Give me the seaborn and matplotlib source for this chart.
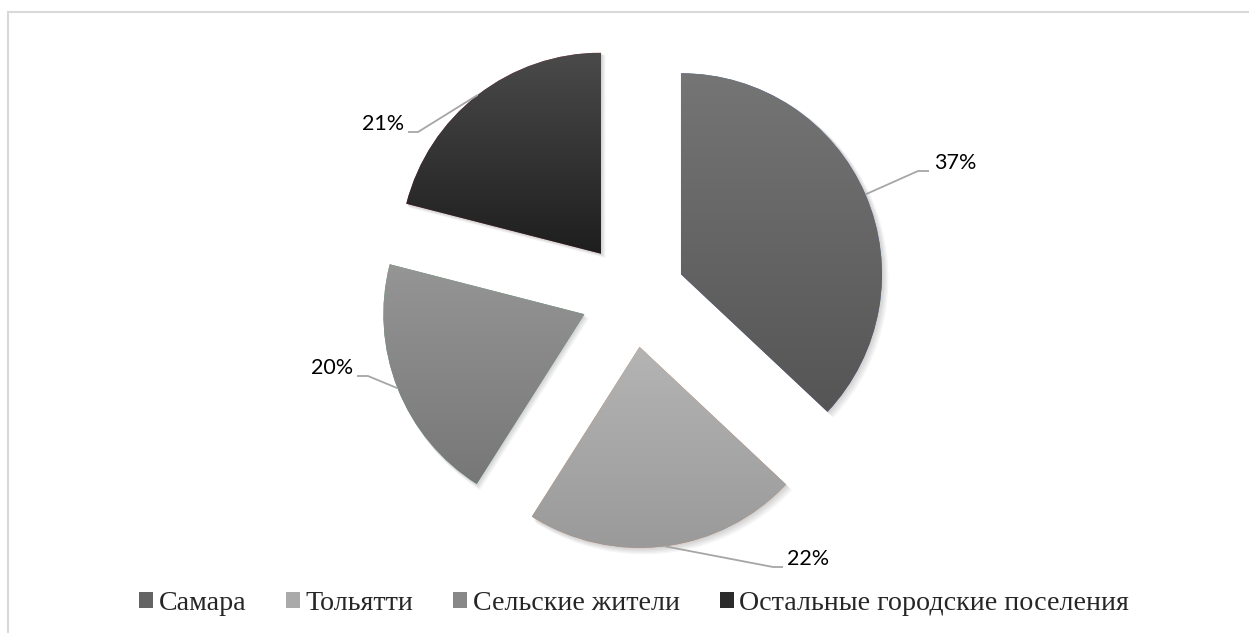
import numpy as np
import matplotlib
matplotlib.use("Agg")
import matplotlib.pyplot as plt
import seaborn as sns
from matplotlib.patches import Patch, Wedge, Rectangle
from matplotlib.colors import LinearSegmentedColormap

# ---- data ----
categories = ["Самара", "Тольятти", "Сельские жители", "Остальные городские поселения"]
shares = [37, 22, 20, 21]
pct_labels = ["37%", "22%", "20%", "21%"]
top_colors = ["#757575", "#b4b4b4", "#959595", "#4a4a4a"]
bottom_colors = ["#555555", "#9a9a9a", "#777777", "#1e1e1e"]
legend_colors = ["#646464", "#aaaaaa", "#888888", "#2c2c2c"]

sns.set_theme(style="white")
plt.rcParams['font.family'] = ['Liberation Serif', 'DejaVu Serif']

W, H = 1249, 633
fig = plt.figure(figsize=(W / 100, H / 100), dpi=100)
fig.patch.set_facecolor("white")
ax = fig.add_axes([0, 0, 1, 1])
CX, CY, R = 633, 295, 201


def px(x, y):
    return ((x - CX) / R, (CY - y) / R)


wedges, _ = ax.pie(shares, startangle=90, counterclock=False,
                   explode=[0.26] * len(shares), radius=1,
                   wedgeprops=dict(linewidth=0))

# soft shadows + vertical gradients
for i, w in enumerate(wedges):
    cx, cy = w.center
    for k in range(1, 6):
        off = k * 0.9 / R
        sh = Wedge((cx + off, cy - off), w.r * (1 + 0.002 * k), w.theta1, w.theta2,
                   facecolor="black", alpha=0.035, linewidth=0, zorder=0.5)
        ax.add_patch(sh)
    w.set_zorder(1)
    ext = w.get_path().get_extents()
    cmap = LinearSegmentedColormap.from_list(f"g{i}", [bottom_colors[i], top_colors[i]])
    grad = np.linspace(0, 1, 256).reshape(-1, 1)
    im = ax.imshow(grad, cmap=cmap, origin="lower", aspect="auto",
                   extent=(ext.x0, ext.x1, ext.y0, ext.y1), zorder=2,
                   interpolation="bilinear")
    im.set_clip_path(w)

# labels with leader lines
label_layout = [
    ((918, 171), (929, 171), (934, 163), "left"),
    ((773, 567), (783, 567), (787, 559), "left"),
    ((368, 376), (357, 376), (353, 368), "right"),
    ((418, 132), (408, 132), (404, 124), "right"),
]
for w, txt, (elb, end, tpos, ha) in zip(wedges, pct_labels, label_layout):
    mid = np.deg2rad((w.theta1 + w.theta2) / 2)
    sx = w.center[0] + w.r * np.cos(mid)
    sy = w.center[1] + w.r * np.sin(mid)
    ex, ey = px(*elb)
    nx, ny = px(*end)
    ax.plot([sx, ex, nx], [sy, ey, ny], color="#a6a6a6", lw=1.3, zorder=3,
            solid_capstyle="butt")
    tx, ty = px(*tpos)
    ax.text(tx, ty, txt, ha=ha, va="center", fontsize=15.5, color="black",
            family=["Lato", "DejaVu Sans"], zorder=4)

ax.set_xlim(-CX / R, (W - CX) / R)
ax.set_ylim(-(H - CY) / R, CY / R)
ax.set_aspect("auto")
ax.axis("off")

handles = [Patch(facecolor=c, edgecolor="none") for c in legend_colors]
fig.legend(handles, categories, loc="center", bbox_to_anchor=(634 / W, 1 - 603 / H),
           ncol=4, frameon=False, fontsize=20.2, handlelength=0.5, handleheight=0.5,
           handletextpad=0.2, columnspacing=1.42)

fig.add_artist(Rectangle((8 / W, -0.1), 1.5, (1 - 12 / H) + 0.1,
                         transform=fig.transFigure, fill=False,
                         edgecolor="#d9d9d9", lw=1.5))

fig.savefig("out.png", dpi=100, facecolor="white")
